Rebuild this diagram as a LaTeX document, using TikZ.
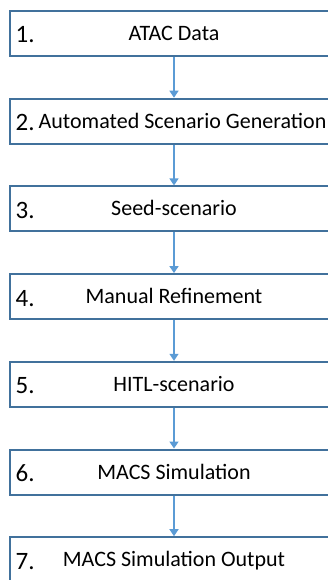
\documentclass[tikz,border=0pt]{standalone}
\usepackage{fontspec}
\setmainfont{Carlito}
\usepackage{tikz}
\usetikzlibrary{
  arrows.meta,
  positioning
}
\definecolor{boxcolor}{RGB}{65, 113, 156}
\definecolor{arrowcolor}{RGB}{91, 155, 213}
\definecolor{labelcolor}{RGB}{0, 0, 0}
\tikzset{
steptext/.style={
  font=\fontsize{22}{26}\selectfont,
  text=labelcolor,
  text height=14pt,
  text depth=0pt
},
stepbox/.style={
  draw=boxcolor,
  line width=2pt,
  fill=white,
  minimum width=328pt,
  minimum height=45pt,
  inner sep=0pt,
  steptext
},
stepnum/.style={
  font=\fontsize{25}{30}\selectfont,
  text=labelcolor,
  inner sep=0pt,
  anchor=base west,
  xshift=6.5pt,
  yshift=-9.5pt
},
arrow/.style={
  -{Triangle[length=7pt,width=9pt]},
  line width=1.5pt,
  draw=arrowcolor
}
}

\begin{document}
\begin{tikzpicture}[node distance=40.7pt]
  \useasboundingbox (0,0) rectangle (328pt,-580pt);

  % steps
  \node[stepbox] (s1) at (174pt,-33.5pt) {ATAC Data};
  \node[stepbox, below=of s1] (s2) {\hspace*{17pt}Automated Scenario Generation};
  \node[stepbox, below=of s2] (s3) {Seed-scenario};
  \node[stepbox, below=of s3] (s4) {Manual Refinement};
  \node[stepbox, below=of s4] (s5) {HITL-scenario};
  \node[stepbox, below=of s5] (s6) {MACS Simulation};
  \node[stepbox, below=of s6] (s7) {MACS Simulation Output};

  % numbers
  \foreach \i in {1,...,7}
    \node[stepnum] (n\i) at (s\i.west) {\i.};

  % arrows
  \foreach \i in {1,...,6}{
    \pgfmathtruncatemacro{\j}{\i+1}
    \draw[arrow] (s\i.south) -- (s\j.north);
  }
\end{tikzpicture}
\end{document}
